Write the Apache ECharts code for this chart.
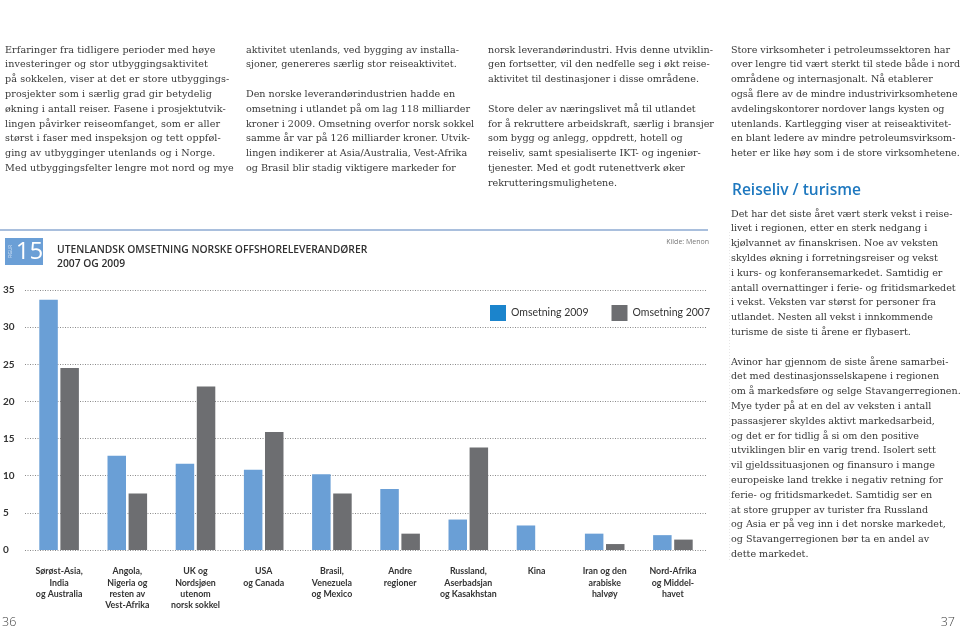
<!DOCTYPE html>
<html>
<head>
<meta charset="utf-8">
<script src="https://cdn.jsdelivr.net/npm/echarts@6/dist/echarts.min.js"></script>
<style>
html,body{margin:0;padding:0;background:#fff;}
#wrap{position:relative;width:960px;height:628px;overflow:hidden;}
#chart{position:absolute;left:0;top:0;width:960px;height:628px;}
.col{position:absolute;font-family:"DejaVu Serif",serif;font-size:9.6px;line-height:14.8px;color:#383838;white-space:nowrap;pointer-events:none;}
.col p{margin:0 0 14.8px 0;}
.h{position:absolute;font-family:"Open Sans",sans-serif;font-weight:600;font-size:15.5px;color:#1e78bf;white-space:nowrap;}
</style>
</head>
<body>
<div id="wrap">
<div id="chart"></div>
<div class="col" style="left:5px;top:42.6px;letter-spacing:0.08px;"><p>Erfaringer fra tidligere perioder med høye<br>investeringer og stor utbyggingsaktivitet<br>på sokkelen, viser at det er store utbyggings-<br>prosjekter som i særlig grad gir betydelig<br>økning i antall reiser. Fasene i prosjektutvik-<br>lingen påvirker reiseomfanget, som er aller<br>størst i faser med inspeksjon og tett oppføl-<br>ging av utbygginger utenlands og i Norge.<br>Med utbyggingsfelter lengre mot nord og mye</p></div>
<div class="col" style="left:246px;top:42.6px;"><p>aktivitet utenlands, ved bygging av installa-<br>sjoner, genereres særlig stor reiseaktivitet.</p><p>Den norske leverandørindustrien hadde en<br>omsetning i utlandet på om lag 118 milliarder<br>kroner i 2009. Omsetning overfor norsk sokkel<br>samme år var på 126 milliarder kroner. Utvik-<br>lingen indikerer at Asia/Australia, Vest-Afrika<br>og Brasil blir stadig viktigere markeder for</p></div>
<div class="col" style="left:488px;top:42.6px;"><p>norsk leverandørindustri. Hvis denne utviklin-<br>gen fortsetter, vil den nedfelle seg i økt reise-<br>aktivitet til destinasjoner i disse områdene.</p><p>Store deler av næringslivet må til utlandet<br>for å rekruttere arbeidskraft, særlig i bransjer<br>som bygg og anlegg, oppdrett, hotell og<br>reiseliv, samt spesialiserte IKT- og ingeniør-<br>tjenester. Med et godt rutenettverk øker<br>rekrutteringsmulighetene.</p></div>
<div class="col" style="left:731px;top:42.6px;letter-spacing:-0.03px;"><p>Store virksomheter i petroleumssektoren har<br>over lengre tid vært sterkt til stede både i nord-<br>områdene og internasjonalt. Nå etablerer<br>også flere av de mindre industrivirksomhetene<br>avdelingskontorer nordover langs kysten og<br>utenlands. Kartlegging viser at reiseaktivitet-<br>en blant ledere av mindre petroleumsvirksom-<br>heter er like høy som i de store virksomhetene.</p></div>
<div class="h" style="left:732px;top:178px;">Reiseliv / turisme</div>
<div class="col" style="left:731px;top:206.6px;letter-spacing:-0.03px;"><p>Det har det siste året vært sterk vekst i reise-<br>livet i regionen, etter en sterk nedgang i<br>kjølvannet av finanskrisen. Noe av veksten<br>skyldes økning i forretningsreiser og vekst<br>i kurs- og konferansemarkedet. Samtidig er<br>antall overnattinger i ferie- og fritidsmarkedet<br>i vekst. Veksten var størst for personer fra<br>utlandet. Nesten all vekst i innkommende<br>turisme de siste ti årene er flybasert.</p><p>Avinor har gjennom de siste årene samarbei-<br>det med destinasjonsselskapene i regionen<br>om å markedsføre og selge Stavangerregionen.<br>Mye tyder på at en del av veksten i antall<br>passasjerer skyldes aktivt markedsarbeid,<br>og det er for tidlig å si om den positive<br>utviklingen blir en varig trend. Isolert sett<br>vil gjeldssituasjonen og finansuro i mange<br>europeiske land trekke i negativ retning for<br>ferie- og fritidsmarkedet. Samtidig ser en<br>at store grupper av turister fra Russland<br>og Asia er på veg inn i det norske markedet,<br>og Stavangerregionen bør ta en andel av<br>dette markedet.</p></div>
</div>
<script>
const categories = [
  'Sørøst-Asia,\nIndia\nog Australia',
  'Angola,\nNigeria og\nresten av\nVest-Afrika',
  'UK og\nNordsjøen\nutenom\nnorsk sokkel',
  'USA\nog Canada',
  'Brasil,\nVenezuela\nog Mexico',
  'Andre\nregioner',
  'Russland,\nAserbadsjan\nog Kasakhstan',
  'Kina',
  'Iran og den\narabiske\nhalvøy',
  'Nord-Afrika\nog Middel-\nhavet'
];
const omsetning2009 = [33.7, 12.7, 11.6, 10.8, 10.2, 8.2, 4.1, 3.3, 2.2, 2.0];
const omsetning2007 = [24.5, 7.6, 22.0, 15.9, 7.6, 2.2, 13.8, 0, 0.8, 1.4];
const yTicks = {min: 0, max: 35, interval: 5};
const titleText = 'UTENLANDSK OMSETNING NORSKE OFFSHORELEVERANDØRER\n2007 OG 2009';
const sourceText = 'Kilde: Menon';

const BLUE = '#6a9fd6', GRAY = '#6d6e71';
const chart = echarts.init(document.getElementById('chart'), null, {renderer: 'canvas'});
chart.setOption({
  animation: false,
  textStyle: {fontFamily: 'Lato, sans-serif'},
  title: {
    text: titleText, left: 52, top: 238,
    textStyle: {fontFamily: 'Open Sans, sans-serif', fontSize: 10.3, fontWeight: 600, color: '#2f2f2f', lineHeight: 14}
  },
  legend: {
    left: 485, top: 300, itemWidth: 16, itemHeight: 16, itemGap: 23, icon: 'rect',
    textStyle: {fontFamily: 'Lato, sans-serif', fontSize: 10.5, color: '#333'},
    data: [
      {name: 'Omsetning 2009', itemStyle: {color: '#1b84cc'}},
      {name: 'Omsetning 2007', itemStyle: {color: GRAY}}
    ]
  },
  grid: {left: 24, right: 253, top: 290, bottom: 78, containLabel: false},
  xAxis: {
    type: 'category', data: categories,
    axisLine: {show: false}, axisTick: {show: false},
    axisLabel: {interval: 0, margin: 16, fontSize: 8.8, fontWeight: 'bold', color: '#333', lineHeight: 11.3, fontFamily: 'Lato, sans-serif'}
  },
  yAxis: {
    type: 'value', min: yTicks.min, max: yTicks.max, interval: yTicks.interval,
    axisLine: {show: false}, axisTick: {show: false},
    axisLabel: {align: 'left', margin: 22, fontSize: 10, fontWeight: 'bold', color: '#333', fontFamily: 'Lato, sans-serif'},
    splitLine: {lineStyle: {type: [1, 1.5], color: '#8a8a8a', width: 1}}
  },
  series: [
    {name: 'Omsetning 2009', type: 'bar', data: omsetning2009, barWidth: 18.5, barGap: '14%', itemStyle: {color: BLUE}},
    {name: 'Omsetning 2007', type: 'bar', data: omsetning2007, barWidth: 18.5, barGap: '14%', itemStyle: {color: GRAY}}
  ],
  graphic: [
    {type: 'line', shape: {x1: 0, y1: 230, x2: 708, y2: 230}, style: {stroke: '#a9bfdd', lineWidth: 2}},
    {type: 'line', shape: {x1: 729.5, y1: 232, x2: 729.5, y2: 560}, style: {stroke: '#e6e6e6', lineWidth: 1, lineDash: [1, 2]}},
    {type: 'rect', shape: {x: 5, y: 238, width: 38, height: 27}, style: {fill: '#6b9fd6'}},
    {type: 'text', x: 29.5, y: 252, style: {text: '15', fill: '#fff', fontSize: 24, fontFamily: 'Open Sans, sans-serif', align: 'center', verticalAlign: 'middle'}},
    {type: 'text', x: 11, y: 251.5, rotation: Math.PI / 2, style: {text: 'FIGUR', fill: '#dce9f7', fontSize: 4.5, fontFamily: 'Open Sans, sans-serif', align: 'center', verticalAlign: 'middle'}},
    {type: 'text', x: 709, y: 242, style: {text: sourceText, fill: '#777', fontSize: 7, fontFamily: 'Open Sans, sans-serif', align: 'right', verticalAlign: 'middle'}},
    {type: 'text', x: 2, y: 622, style: {text: '36', fill: '#444', fontSize: 12.5, fontFamily: 'Open Sans, sans-serif', fontWeight: 300, verticalAlign: 'middle'}},
    {type: 'text', x: 955, y: 622, style: {text: '37', fill: '#444', fontSize: 12.5, fontFamily: 'Open Sans, sans-serif', fontWeight: 300, align: 'right', verticalAlign: 'middle'}}
  ]
});
</script>
</body>
</html>
